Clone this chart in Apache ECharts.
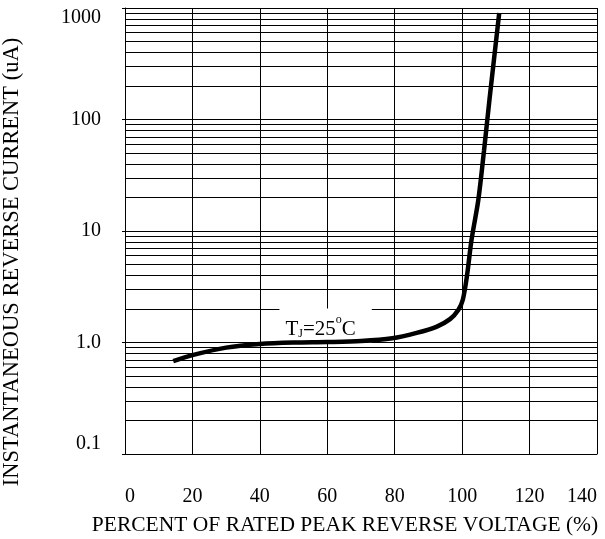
<!DOCTYPE html>
<html>
<head>
<meta charset="utf-8">
<script src="https://cdn.jsdelivr.net/npm/echarts@6/dist/echarts.min.js"></script>
<style>
  html, body { margin: 0; padding: 0; background: #fff; }
  #chart { width: 605px; height: 539px; }
</style>
</head>
<body>
<div id="chart"></div>
<script>
// percent of rated peak reverse voltage vs reverse current (uA)
const voltage = [14.3, 20, 30, 40, 50, 60, 70, 79.3, 86.5, 92.5, 96.4, 98.9, 100.2, 101.4, 102.8, 104.8, 106.5, 108.1, 111]
const current = [0.68, 0.77, 0.9, 0.97, 1.0, 1.01, 1.03, 1.09, 1.22, 1.39, 1.62, 1.97, 2.42, 3.9, 8.4, 19, 53, 150, 900]
const xTicks = [0, 20, 40, 60, 80, 100, 120, 140]
const decades = [0.1, 1, 10, 100]

// minor log grid lines 2..9 in each decade
const minorGrid = []
decades.forEach(d => {
  for (let k = 2; k <= 9; k++) minorGrid.push(+(d * k).toPrecision(3))
})

const font = 'Liberation Serif, Times New Roman, serif'
const chart = echarts.init(document.getElementById('chart'))
chart.setOption({
  animation: false,
  grid: { left: 125, right: 8, top: 8, bottom: 85, outerBoundsMode: 'none', containLabel: false },
  xAxis: {
    type: 'value',
    min: 0,
    max: 140,
    interval: 20,
    name: 'PERCENT OF RATED PEAK REVERSE VOLTAGE (%)',
    nameLocation: 'middle',
    nameGap: 60,
    nameTextStyle: { fontFamily: font, fontSize: 21.5, color: '#000', padding: [0, 32, 0, 0] },
    axisLine: { show: true, lineStyle: { color: '#000', width: 1 } },
    axisTick: { show: false },
    axisLabel: {
      fontFamily: font, fontSize: 20, color: '#000', margin: 33,
      alignMinLabel: 'left', alignMaxLabel: 'right',
      formatter: v => (xTicks.includes(v) ? String(v) : '')
    },
    splitLine: { show: true, lineStyle: { color: '#000', width: 1 } }
  },
  yAxis: {
    type: 'log',
    logBase: 10,
    min: 0.1,
    max: 1000,
    name: 'INSTANTANEOUS REVERSE CURRENT (uA)',
    nameLocation: 'middle',
    nameGap: 101,
    nameTextStyle: { fontFamily: font, fontSize: 22.5, color: '#000', padding: [0, 62, 0, 0] },
    axisLine: { show: true, lineStyle: { color: '#000', width: 1 } },
    axisTick: { show: true, length: 3, inside: false, lineStyle: { color: '#000' } },
    axisLabel: {
      fontFamily: font, fontSize: 20, color: '#000', margin: 24,
      verticalAlignMaxLabel: 'top', verticalAlignMinLabel: 'bottom',
      formatter: v => (v === 1 ? '1.0' : String(v))
    },
    splitLine: { show: true, lineStyle: { color: '#000', width: 1 } }
  },
  series: [
    {
      type: 'line',
      data: voltage.map((v, i) => [v, current[i]]),
      smooth: 0.3,
      symbol: 'none',
      lineStyle: { color: '#000', width: 4.5 },
      z: 5,
      markLine: {
        silent: true,
        symbol: 'none',
        label: { show: false },
        lineStyle: { color: '#000', width: 1, type: 'solid' },
        data: minorGrid.map(v => ({ yAxis: v })),
        z: 1
      },
      markPoint: {
        silent: true,
        symbol: 'rect',
        symbolSize: 0,
        data: [{ coord: [59.5, 1.42] }],
        label: {
          show: true,
          position: 'inside',
          backgroundColor: '#fff',
          padding: [5, 16, 3, 6],
          formatter: '{a|T}{s|J}{a|=25}{p|o}{a|C}',
          rich: {
            a: { fontFamily: font, fontSize: 21, color: '#000', verticalAlign: 'bottom', lineHeight: 24 },
            s: { fontFamily: font, fontSize: 12, color: '#000', verticalAlign: 'bottom', lineHeight: 20 },
            p: { fontFamily: font, fontSize: 12, color: '#000', verticalAlign: 'top', lineHeight: 26 }
          }
        }
      }
    }
  ]
})
</script>
</body>
</html>
